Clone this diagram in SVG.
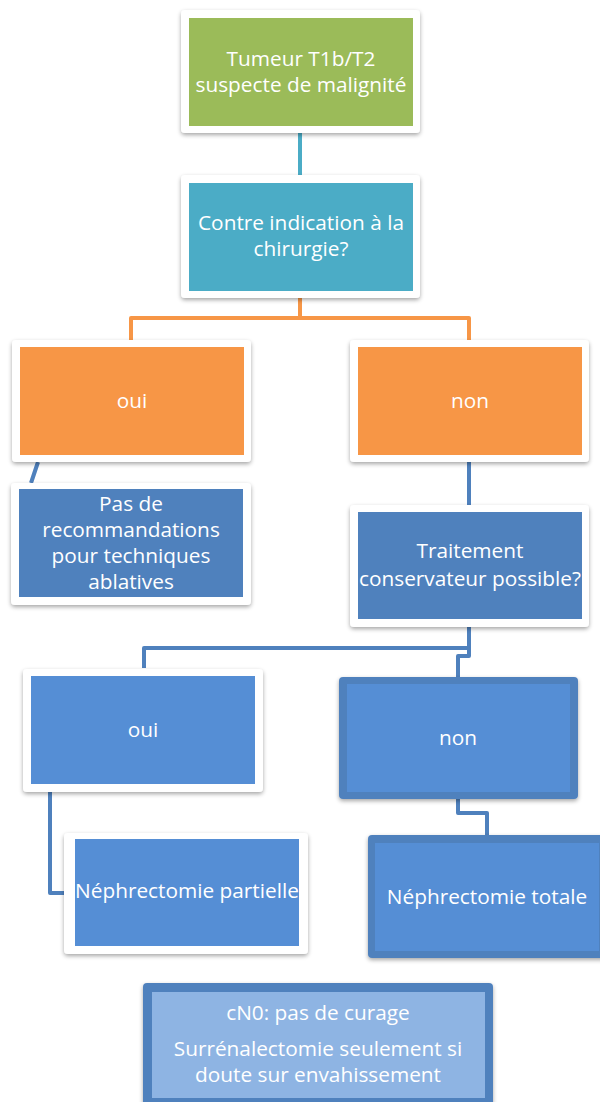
<svg xmlns="http://www.w3.org/2000/svg" width="600" height="1102" viewBox="0 0 600 1102">
<defs>
<filter id="sh" x="-10%" y="-10%" width="120%" height="130%">
<feDropShadow dx="0" dy="2" stdDeviation="2.2" flood-color="#000" flood-opacity="0.35"/>
</filter>
<style>
.frame{fill:#fff;filter:url(#sh)}
.t{font-family:"Open Sans","Liberation Sans",sans-serif;font-size:20.8px;fill:#fff;text-anchor:middle}
.c{fill:none;stroke-width:4;stroke-linejoin:round;stroke-linecap:butt}
.cb{stroke:#4F81BD}
.co{stroke:#F79646}
.ct{stroke:#4BACC6}
.thick{fill:#4F81BD;filter:url(#sh)}
</style>
</defs>
<rect width="600" height="1102" fill="#fff"/>
<g id="connectors">
<path class="c ct" d="M300,133 V183"/>
<path class="c co" d="M300,298 V318 M131,340 V318 H469 V340"/>
<path class="c cb" d="M38,462 L31,483"/>
<path class="c cb" d="M469,462 V505"/>
<path class="c cb" d="M469,627 V648 H144 V668 M469,648 V656 H458 V678"/>
<path class="c cb" d="M50,792 V893 H75"/>
<path class="c cb" d="M458,799 V813 H487 V836"/>
</g>
<g id="n1">
<rect class="frame" x="181" y="10" width="239" height="123" rx="4"/>
<rect x="189" y="18" width="224" height="108" fill="#9BBB59"/>
<text class="t" x="301" y="66">Tumeur T1b/T2</text>
<text class="t" x="301" y="92">suspecte de malignité</text>
</g>
<g id="n2">
<rect class="frame" x="181" y="175" width="239" height="123" rx="4"/>
<rect x="189" y="183" width="224" height="108" fill="#4BACC6"/>
<text class="t" x="301" y="230">Contre indication à la</text>
<text class="t" x="301" y="256">chirurgie?</text>
</g>
<g id="n3">
<rect class="frame" x="12" y="340" width="239" height="122" rx="4"/>
<rect x="20" y="347" width="224" height="108" fill="#F79646"/>
<text class="t" x="132" y="408">oui</text>
</g>
<g id="n4">
<rect class="frame" x="350" y="340" width="239" height="122" rx="4"/>
<rect x="358" y="347" width="224" height="108" fill="#F79646"/>
<text class="t" x="470" y="408">non</text>
</g>
<g id="n5">
<rect class="frame" x="11" y="483" width="240" height="122" rx="4"/>
<rect x="19" y="489" width="224" height="108" fill="#4F81BD"/>
<text class="t" x="131" y="511">Pas de</text>
<text class="t" x="131" y="537">recommandations</text>
<text class="t" x="131" y="563">pour techniques</text>
<text class="t" x="131" y="589">ablatives</text>
</g>
<g id="n6">
<rect class="frame" x="350" y="505" width="239" height="122" rx="4"/>
<rect x="358" y="512" width="224" height="107" fill="#4F81BD"/>
<text class="t" x="470" y="558">Traitement</text>
<text class="t" x="470" y="586">conservateur possible?</text>
</g>
<g id="n7">
<rect class="frame" x="23" y="669" width="240" height="123" rx="4"/>
<rect x="31" y="676" width="224" height="108" fill="#558ED5"/>
<text class="t" x="143" y="737">oui</text>
</g>
<g id="n8">
<rect class="thick" x="339" y="677" width="239" height="122" rx="4"/>
<rect x="347" y="684" width="223" height="108" fill="#558ED5"/>
<text class="t" x="458" y="745">non</text>
</g>
<g id="n9">
<rect class="frame" x="64" y="833" width="244" height="121" rx="4"/>
<rect x="75" y="839" width="224" height="107" fill="#558ED5"/>
<text class="t" x="187" y="898">Néphrectomie partielle</text>
</g>
<g id="n10">
<rect class="thick" x="368" y="835" width="240" height="123" rx="4"/>
<rect x="375" y="843" width="224" height="108" fill="#558ED5"/>
<text class="t" x="487" y="904">Néphrectomie totale</text>
</g>
<g id="n11">
<rect class="thick" x="143" y="983" width="350" height="125" rx="4"/>
<rect x="152" y="992" width="333" height="106" fill="#8EB4E3"/>
<text class="t" x="318" y="1020">cN0: pas de curage</text>
<text class="t" x="318" y="1056">Surrénalectomie seulement si</text>
<text class="t" x="318" y="1082">doute sur envahissement</text>
</g>
</svg>
